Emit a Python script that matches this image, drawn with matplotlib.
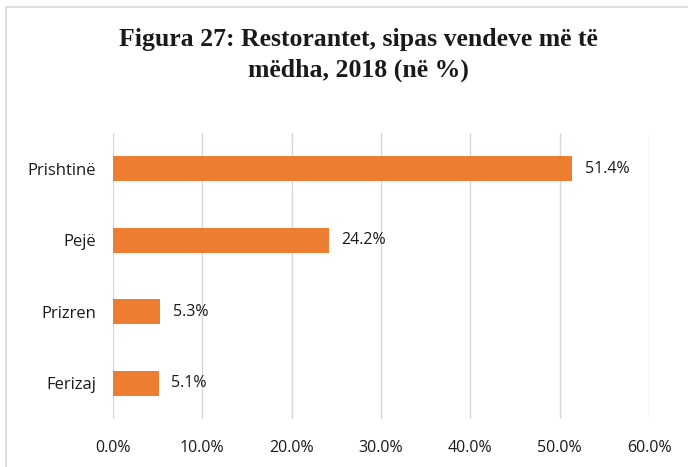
import matplotlib
matplotlib.use("Agg")
import matplotlib.pyplot as plt
from matplotlib.patches import Rectangle

categories = ["Prishtinë", "Pejë", "Prizren", "Ferizaj"]
values = [51.4, 24.2, 5.3, 5.1]
ticks = [0, 10, 20, 30, 40, 50, 60]
tick_labels = ["0.0%", "10.0%", "20.0%", "30.0%", "40.0%", "50.0%", "60.0%"]
title = "Figura 27: Restorantet, sipas vendeve më të\nmëdha, 2018 (në %)"

W, H = 688, 467
fig = plt.figure(figsize=(W / 100, H / 100), dpi=100)
ax = fig.add_axes([113 / W, 1 - 419 / H, (649 - 113) / W, (419 - 133) / H])

ypos = list(range(len(categories)))
ax.barh(ypos, values, height=0.35, color="#ED7D31", zorder=3)
ax.set_ylim(len(categories) - 0.5, -0.5)
ax.set_xlim(0, 60)
ax.set_xticks(ticks)
ax.set_xticklabels(tick_labels)
ax.set_yticks(ypos)
ax.set_yticklabels(categories)
for s in ax.spines.values():
    s.set_visible(False)
ax.tick_params(length=0)
ax.tick_params(axis="x", pad=15)
ax.tick_params(axis="y", pad=12)
for lab in ax.get_xticklabels():
    lab.set_fontfamily("Open Sans")
    lab.set_fontsize(11.5)
    lab.set_color("#1a1a1a")
for lab in ax.get_yticklabels():
    lab.set_fontfamily("Open Sans")
    lab.set_fontsize(12)
    lab.set_color("#1a1a1a")
ax.grid(axis="x", color="#d9d9d9", linewidth=1, zorder=0)
ax.grid(axis="y", visible=False)

for y, v in zip(ypos, values):
    ax.annotate(f"{v:.1f}%", (v, y), xytext=(9, 0), textcoords="offset points",
                ha="left", va="center", fontfamily="Open Sans", fontsize=11.5,
                color="#1a1a1a")

fig.text(358 / W, 1 - 55 / H, title, ha="center", va="center",
         fontfamily="Liberation Serif", fontweight="bold", fontsize=18.5,
         linespacing=1.45, color="#1a1a1a")

fig.patches.append(Rectangle((6 / W, -0.1), 1.2, 1 - 7 / H + 0.1,
                             transform=fig.transFigure, fill=False,
                             edgecolor="#d9d9d9", linewidth=1.2))

fig.savefig("out.png", dpi=100)
